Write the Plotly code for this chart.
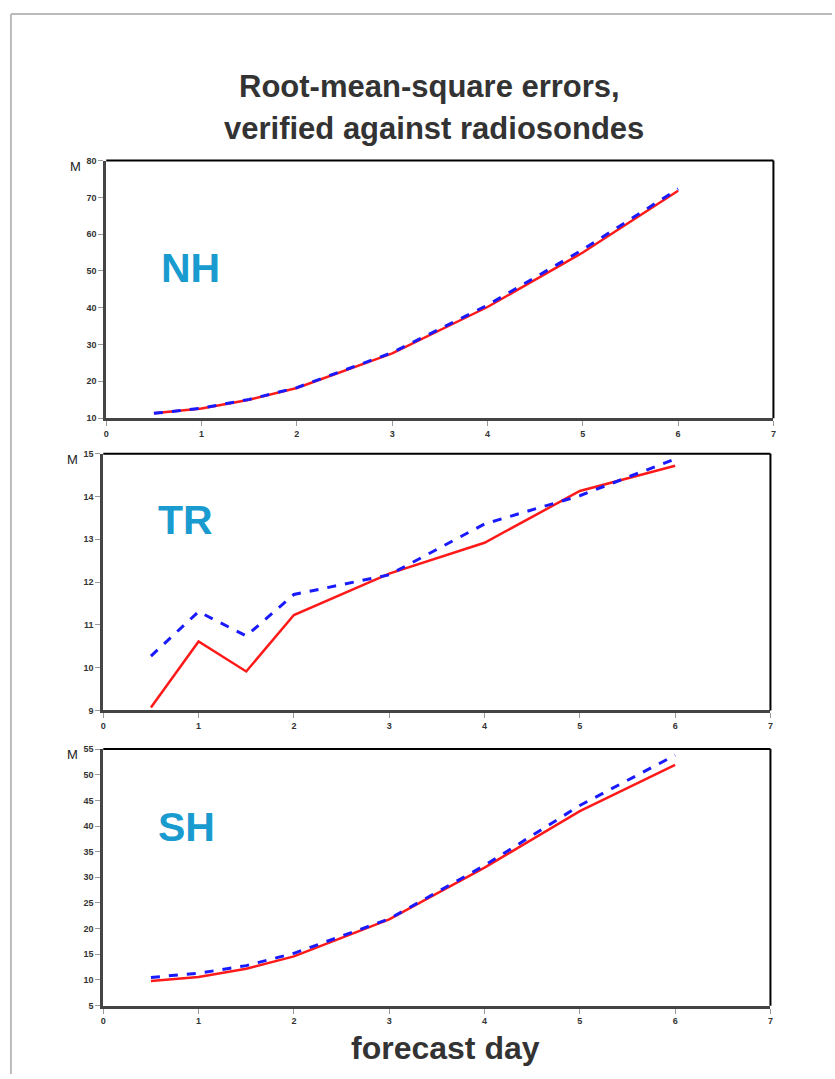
import plotly.graph_objects as go

# Forecast lead times (days)
days = [0.5, 1, 1.5, 2, 3, 4, 5, 6]

# RMS errors (m) per region: two forecast systems
nh_red = [11.3, 12.6, 15.0, 18.2, 27.6, 40.2, 55.0, 71.8]
nh_blue = [11.3, 12.7, 15.1, 18.3, 27.8, 40.7, 55.8, 72.3]

tr_red = [9.07, 10.61, 9.91, 11.23, 12.2, 12.92, 14.13, 14.72]
tr_blue = [10.27, 11.31, 10.74, 11.71, 12.17, 13.36, 14.02, 14.88]

sh_red = [9.8, 10.6, 12.2, 14.6, 21.8, 31.9, 42.9, 51.9]
sh_blue = [10.5, 11.3, 12.8, 15.2, 21.9, 32.3, 44.0, 53.8]

regions = ["NH", "TR", "SH"]
y_ranges = [(10, 80), (9, 15), (5, 55)]
y_steps = [10, 1, 5]
x_ticks = [0, 1, 2, 3, 4, 5, 6, 7]

W, H = 835, 1079
# panel boxes in pixels: (left, right, top, bottom)
boxes = [(104, 776, 157, 417), (101, 773, 453, 712), (101, 773, 751, 1010)]
label_y = [265, 520, 830]

fig = go.Figure()
series = [(nh_red, nh_blue), (tr_red, tr_blue), (sh_red, sh_blue)]

for i, (red, blue) in enumerate(series):
    n = "" if i == 0 else str(i + 1)
    fig.add_trace(go.Scatter(x=days, y=red, mode="lines", xaxis="x" + n, yaxis="y" + n,
                             line=dict(color="#ff1a1a", width=2.5), showlegend=False))
    fig.add_trace(go.Scatter(x=days, y=blue, mode="lines", xaxis="x" + n, yaxis="y" + n,
                             line=dict(color="#1a1aff", width=3, dash="dash"), showlegend=False))

FONT = "Liberation Sans, Arial, sans-serif"
tick_font = dict(family=FONT, size=9, color="#333", weight="bold")
layout = dict(width=W, height=H, margin=dict(l=0, r=0, t=0, b=0),
              paper_bgcolor="white", plot_bgcolor="white", showlegend=False)

shapes = []
annotations = []
for i, (l, r, t, b) in enumerate(boxes):
    n = "" if i == 0 else str(i + 1)
    lo, hi = y_ranges[i]
    layout["xaxis" + n] = dict(
        domain=[l / W, r / W], range=[0, 7], anchor="y" + n,
        tickvals=x_ticks, ticks="outside", ticklen=5, tickwidth=1, tickcolor="#999",
        showline=True, linewidth=3, linecolor="#444", showgrid=False, zeroline=False,
        tickfont=tick_font, fixedrange=True)
    layout["yaxis" + n] = dict(
        domain=[1 - b / H, 1 - t / H], range=[lo, hi], anchor="x" + n,
        dtick=y_steps[i], tick0=lo, ticks="outside", ticklen=5, tickwidth=1, tickcolor="#999",
        showline=True, linewidth=3, linecolor="#444", showgrid=False, zeroline=False,
        tickfont=tick_font, fixedrange=True)
    # top and right frame edges
    xr = "x" + n + " domain"
    yr = "y" + n + " domain"
    shapes.append(dict(type="line", xref=xr, yref=yr, x0=0, x1=1, y0=1, y1=1,
                       line=dict(color="black", width=2)))
    shapes.append(dict(type="line", xref=xr, yref=yr, x0=1, x1=1, y0=0, y1=1,
                       line=dict(color="black", width=2)))
    # unit label
    annotations.append(dict(xref="paper", yref="paper", x=(l - 31) / W, y=1 - (t + 6) / H,
                            text="M", showarrow=False, xanchor="center", yanchor="middle",
                            font=dict(family=FONT, size=13, color="#222")))
    # region label
    annotations.append(dict(xref="paper", yref="paper", x=(l + 53) / W, y=1 - label_y[i] / H,
                            text="<b>%s</b>" % regions[i], showarrow=False, xanchor="left",
                            yanchor="middle",
                            font=dict(family=FONT, size=41, color="#1a9bd0")))

title_font = dict(family=FONT, size=31, color="#333")
annotations.append(dict(xref="paper", yref="paper", x=430 / W, y=1 - 82 / H,
                        text="<b>Root-mean-square errors,</b>", showarrow=False,
                        xanchor="center", yanchor="middle", font=title_font))
annotations.append(dict(xref="paper", yref="paper", x=434 / W, y=1 - 125 / H,
                        text="<b>verified against radiosondes</b>", showarrow=False,
                        xanchor="center", yanchor="middle", font=title_font))
annotations.append(dict(xref="paper", yref="paper", x=446 / W, y=1 - 1053 / H,
                        text="<b>forecast day</b>", showarrow=False,
                        xanchor="center", yanchor="middle",
                        font=dict(family=FONT, size=32, color="#333")))

# page frame
shapes.append(dict(type="line", xref="paper", yref="paper", x0=8 / W, x1=1, y0=1 - 9 / H, y1=1 - 9 / H,
                   line=dict(color="#bbbbbb", width=2)))
shapes.append(dict(type="line", xref="paper", yref="paper", x0=8 / W, x1=8 / W, y0=0, y1=1 - 9 / H,
                   line=dict(color="#bbbbbb", width=2)))

layout["shapes"] = shapes
layout["annotations"] = annotations
fig.update_layout(**layout)

fig.write_html("out.html")
